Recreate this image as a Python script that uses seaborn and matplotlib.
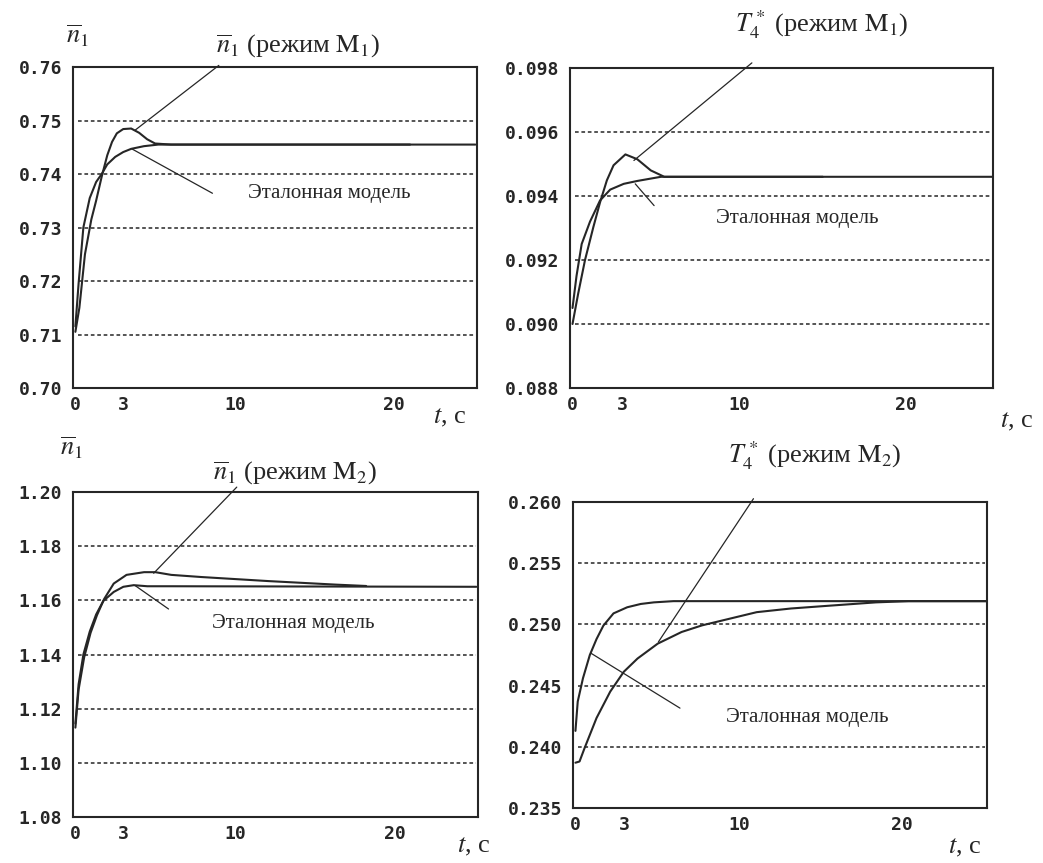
import matplotlib
matplotlib.use("Agg")
import matplotlib.pyplot as plt
import pandas as pd
import seaborn as sns

# values (t in s)
# panel 1: n1, mode M1
t1_ref = [0, 0.2, 0.5, 0.9, 1.3, 1.65, 2.0, 2.5, 3.0, 3.5, 4.3, 5.2, 21]
v1_ref = [0.7115, 0.7195, 0.7300, 0.7355, 0.7385, 0.7400, 0.7418, 0.7432, 0.7441, 0.7447, 0.7452, 0.7455, 0.7455]
t1_mod = [0, 0.25, 0.6, 1.0, 1.3, 1.65, 2.0, 2.3, 2.6, 3.0, 3.5, 4.0, 4.5, 5.0, 6.0, 25.1]
v1_mod = [0.7105, 0.7150, 0.7250, 0.7315, 0.7350, 0.7395, 0.7435, 0.7460, 0.7476, 0.7484, 0.7485, 0.7477, 0.7465, 0.7457, 0.7455, 0.7455]

# panel 2: T4*, mode M1
t2_ref = [0, 0.24, 0.55, 1.05, 1.65, 2.26, 3.07, 3.88, 5.3, 7, 15]
v2_ref = [0.0905, 0.0915, 0.0925, 0.0932, 0.09386, 0.0942, 0.09438, 0.09447, 0.0946, 0.0946, 0.0946]
t2_mod = [0, 0.34, 0.75, 1.25, 1.65, 2.06, 2.46, 3.17, 3.88, 4.69, 5.5, 7, 25.2]
v2_mod = [0.0900, 0.09095, 0.0920, 0.09303, 0.0938, 0.09449, 0.09496, 0.0953, 0.09515, 0.0948, 0.0946, 0.0946, 0.0946]

# panel 3: n1, mode M2
t3_ref = [0, 0.2, 0.5, 0.9, 1.3, 1.75, 2.4, 3.0, 3.65, 4.5, 6, 25.1]
v3_ref = [1.1145, 1.1290, 1.1400, 1.1485, 1.1548, 1.1598, 1.1631, 1.1650, 1.1656, 1.1652, 1.1652, 1.1650]
t3_mod = [0, 0.2, 0.55, 0.95, 1.35, 1.8, 2.4, 3.2, 4.3, 5.0, 6.0, 7.9, 12.1, 16.3, 18.2]
v3_mod = [1.1130, 1.1270, 1.1390, 1.1480, 1.1545, 1.1605, 1.1662, 1.1694, 1.1704, 1.1704, 1.1694, 1.1686, 1.1671, 1.1658, 1.1653]

# panel 4: T4*, mode M2
t4_ref = [0, 0.14, 0.46, 0.88, 1.29, 1.71, 2.33, 3.17, 4.0, 4.8, 6.0, 25.5]
v4_ref = [0.2413, 0.2437, 0.2456, 0.2475, 0.2488, 0.2499, 0.2509, 0.2514, 0.25167, 0.2518, 0.2519, 0.2519]
t4_mod = [0, 0.25, 0.56, 1.29, 2.13, 2.96, 3.8, 5.04, 6.5, 7.75, 11.1, 13.2, 15.25, 18.4, 20.4, 25.5]
v4_mod = [0.2387, 0.2388, 0.2399, 0.24235, 0.24451, 0.24613, 0.24721, 0.24843, 0.24938, 0.24992, 0.2510, 0.2513, 0.2515, 0.2518, 0.2519, 0.2519]

x_ticks = [0, 3, 10, 20]
y1_ticks = [0.70, 0.71, 0.72, 0.73, 0.74, 0.75, 0.76]
y2_ticks = [0.088, 0.090, 0.092, 0.094, 0.096, 0.098]
y3_ticks = [1.08, 1.10, 1.12, 1.14, 1.16, 1.18, 1.20]
y4_ticks = [0.235, 0.240, 0.245, 0.250, 0.255, 0.260]

note = "Эталонная модель"

sns.set_style("white")
plt.rcParams["font.family"] = ["Liberation Serif", "DejaVu Serif"]
plt.rcParams["mathtext.fontset"] = "stix"

INK = "#262626"
W, H = 1043, 863
fig = plt.figure(figsize=(W / 100, H / 100), dpi=100)
fig.patch.set_facecolor("white")


def px_axes(l, t, r, b):
    return fig.add_axes([l / W, 1 - b / H, (r - l) / W, (b - t) / H])


def px_text(x, y, s, size=19, **kw):
    fig.text(x / W, 1 - y / H, s, va="baseline", ha="left", fontsize=size, color=INK, **kw)


def panel(ax, ref, mod, yticks, fmt, up, down, note_at):
    df = pd.concat([
        pd.DataFrame({"t": ref[0], "v": ref[1], "curve": "ref"}),
        pd.DataFrame({"t": mod[0], "v": mod[1], "curve": "mod"}),
    ])
    sns.lineplot(data=df, x="t", y="v", hue="curve", palette={"ref": INK, "mod": INK},
                 estimator=None, sort=False, legend=False, lw=1.5, ax=ax)
    for y in yticks[1:-1]:
        ax.axhline(y, xmin=0.012, xmax=0.995, color=INK, lw=1.1, ls=(0, (2.4, 1.8)))
    # pointer lines to the caption and to the reference-model note
    ax.plot([up[0], up[2]], [up[1], up[3]], color=INK, lw=0.9, clip_on=False)
    ax.plot([down[0], down[2]], [down[1], down[3]], color=INK, lw=0.9)
    ax.text(note_at[0], note_at[1], note, fontsize=15, va="center", ha="left", color=INK)

    ax.set_xlim(-0.15, 25.2)
    ax.set_ylim(yticks[0], yticks[-1])
    ax.set_xticks(x_ticks)
    ax.set_yticks(yticks)
    ax.set_yticklabels([fmt.format(y) for y in yticks])
    ax.set_xlabel("")
    ax.set_ylabel("")
    ax.tick_params(axis="x", direction="in", length=5, width=1, pad=6, colors=INK)
    ax.tick_params(axis="y", length=0, pad=8, colors=INK)
    for lab in ax.get_xticklabels() + ax.get_yticklabels():
        lab.set_fontfamily("DejaVu Sans Mono")
        lab.set_fontweight("bold")
        lab.set_fontsize(13)
    for s in ax.spines.values():
        s.set_linewidth(1.5)
        s.set_color(INK)


ax1 = px_axes(73, 67, 477, 388)
panel(ax1, (t1_ref, v1_ref), (t1_mod, v1_mod), y1_ticks, "{:.2f}",
      (3.75, 0.7482, 9.0, 0.7603), (3.54, 0.7447, 8.6, 0.7364), (10.8, 0.7364))

ax2 = px_axes(570, 68, 993, 388)
panel(ax2, (t2_ref, v2_ref), (t2_mod, v2_mod), y2_ticks, "{:.3f}",
      (3.68, 0.09511, 10.75, 0.09816), (3.76, 0.09438, 4.89, 0.0937), (8.6, 0.0933))

ax3 = px_axes(73, 492, 478, 817)
panel(ax3, (t3_ref, v3_ref), (t3_mod, v3_mod), y3_ticks, "{:.2f}",
      (4.9, 1.1700, 10.1, 1.2018), (3.75, 1.1654, 5.83, 1.1568), (8.56, 1.1514))

ax4 = px_axes(573, 502, 987, 808)
panel(ax4, (t4_ref, v4_ref), (t4_mod, v4_mod), y4_ticks, "{:.3f}",
      (5.08, 0.24857, 10.9, 0.26027), (0.98, 0.24762, 6.4, 0.24316), (9.2, 0.2424))

# captions, axis names
px_text(216, 53, r"$\overline{n}_1$ (режим $\mathrm{M}_1$)")
px_text(735, 32, r"$T_4^*$ (режим $\mathrm{M}_1$)")
px_text(213, 480, r"$\overline{n}_1$ (режим $\mathrm{M}_2$)")
px_text(728, 463, r"$T_4^*$ (режим $\mathrm{M}_2$)")
px_text(66, 43, r"$\overline{n}_1$")
px_text(60, 455, r"$\overline{n}_1$")
px_text(433, 423, r"$t$, с")
px_text(1000, 427, r"$t$, с")
px_text(457, 852, r"$t$, с")
px_text(948, 853, r"$t$, с")

fig.savefig("out.png", dpi=100, facecolor="white")
